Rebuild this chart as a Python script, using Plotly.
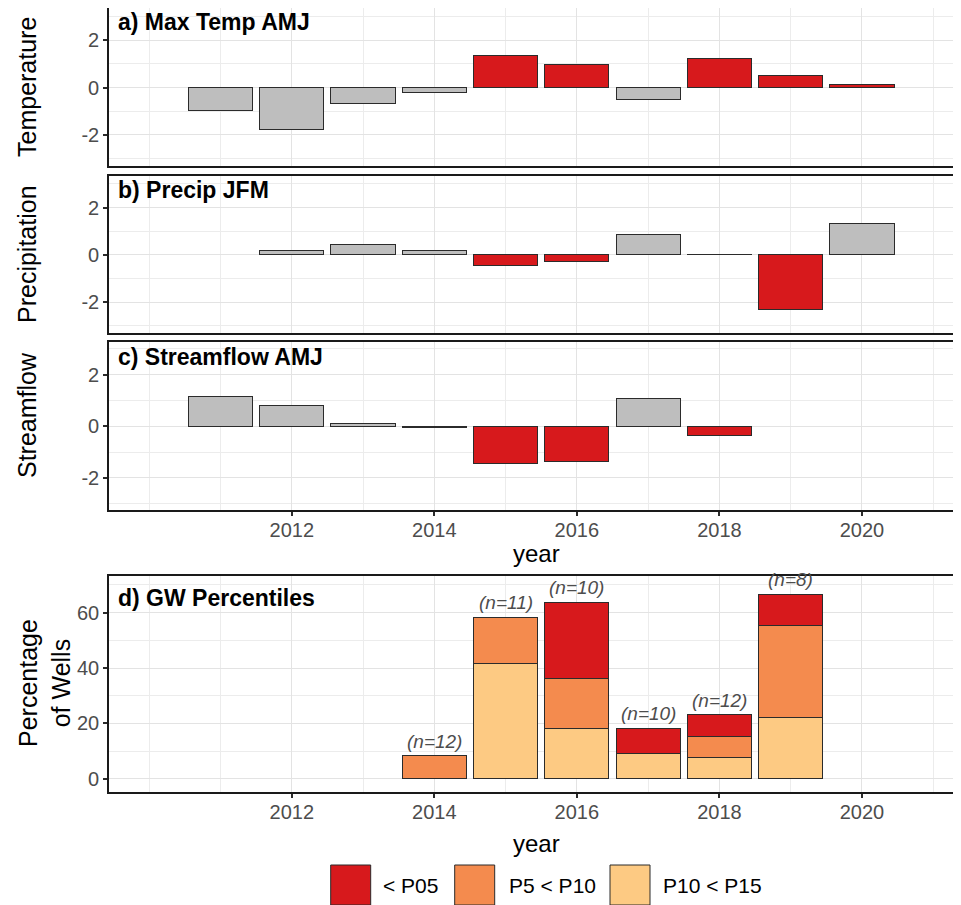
import plotly.graph_objects as go

# ---------------- data ----------------
years_a = [2011, 2012, 2013, 2014, 2015, 2016, 2017, 2018, 2019, 2020]
temp_amj = [-0.96, -1.76, -0.66, -0.2, 1.35, 0.97, -0.49, 1.22, 0.52, 0.12]

years_b = [2012, 2013, 2014, 2015, 2016, 2017, 2018, 2019, 2020]
precip_jfm = [0.17, 0.44, 0.21, -0.45, -0.28, 0.87, 0.03, -2.3, 1.31]

years_c = [2011, 2012, 2013, 2014, 2015, 2016, 2017, 2018]
stream_amj = [1.14, 0.81, 0.1, -0.03, -1.43, -1.38, 1.09, -0.34]

years_d = [2014, 2015, 2016, 2017, 2018, 2019]
p10_p15 = [None, 41.7, 18.2, 9.1, 7.7, 22.2]
p5_p10 = [8.3, 16.6, 18.2, None, 7.7, 33.3]
lt_p05 = [None, None, 27.3, 9.1, 7.7, 11.1]
n_wells = [12, 11, 10, 10, 12, 8]

x_ticks = [2012, 2014, 2016, 2018, 2020]
legend_labels = ["< P05", "P5 < P10", "P10 < P15"]

# ---------------- style ----------------
OFF = 8  # page body margin
W, H = 961 - OFF, 905 - OFF
RED = "#d7191c"
ORANGE = "#f48b4e"
LIGHT = "#fdca83"
GREY = "#bebebe"
EDGE = "#2b2b2b"
FONT = "Liberation Sans, Arial, sans-serif"
TICKC = "#4d4d4d"


def px_x(x):
    return (x - OFF) / W


def px_y(y):
    return 1 - (y - OFF) / H


panels = {  # (top px, bottom px) in reference coordinates
    1: (8.3, 165.7),
    2: (175.7, 333.3),
    3: (341.7, 510.0),
    4: (575.7, 791.7),
}
XL = 109.3

fig = go.Figure()

red_or_grey = lambda cond: [RED if c else GREY for c in cond]

fig.add_trace(go.Bar(x=years_a, y=temp_amj, width=0.9,
                     marker=dict(color=red_or_grey([v > 0 for v in temp_amj]),
                                 line=dict(color=EDGE, width=1)),
                     xaxis="x", yaxis="y", showlegend=False))
fig.add_trace(go.Bar(x=years_b, y=precip_jfm, width=0.9,
                     marker=dict(color=red_or_grey([v < 0 for v in precip_jfm]),
                                 line=dict(color=EDGE, width=1)),
                     xaxis="x2", yaxis="y2", showlegend=False))
fig.add_trace(go.Bar(x=years_c, y=stream_amj, width=0.9,
                     marker=dict(color=red_or_grey([v < -0.1 for v in stream_amj]),
                                 line=dict(color=EDGE, width=1)),
                     xaxis="x3", yaxis="y3", showlegend=False))

for vals, col, name in [(p10_p15, LIGHT, legend_labels[2]),
                        (p5_p10, ORANGE, legend_labels[1]),
                        (lt_p05, RED, legend_labels[0])]:
    fig.add_trace(go.Bar(x=years_d, y=vals, width=0.9, name=name,
                         marker=dict(color=col, line=dict(color=EDGE, width=1)),
                         xaxis="x4", yaxis="y4", showlegend=False))

# n labels
totals = [sum(v for v in (a, b, c) if v is not None) for a, b, c in zip(p10_p15, p5_p10, lt_p05)]
for yr, tot, n in zip(years_d, totals, n_wells):
    fig.add_annotation(x=yr, y=tot, xref="x4", yref="y4", text=f"<i>(n={n})</i>",
                       showarrow=False, yanchor="bottom", yshift=2,
                       font=dict(family=FONT, size=19, color=TICKC))

xrange = [2009.44, 2021.39]
yranges = {1: [-3.3, 3.35], 2: [-3.31, 3.35], 3: [-3.25, 3.28], 4: [-4.6, 73.3]}

layout = dict(width=W, height=H, margin=dict(l=0, r=0, t=0, b=0, autoexpand=False),
              paper_bgcolor="white", plot_bgcolor="white",
              barmode="stack", showlegend=False, font=dict(family=FONT))

for i in range(1, 5):
    top, bot = panels[i]
    sx = "" if i == 1 else str(i)
    show_lab = i >= 3
    layout[f"xaxis{sx}"] = dict(
        domain=[px_x(XL), 1.0], range=xrange, anchor=f"y{sx}", automargin=False,
        tickvals=x_ticks, showticklabels=show_lab,
        ticks="outside" if show_lab else "", ticklen=4, tickwidth=1.5, tickcolor=EDGE,
        ticklabelstandoff=-3,
        tickfont=dict(family=FONT, size=20, color=TICKC),
        showgrid=True, gridcolor="#e3e3e3", gridwidth=1.4,
        minor=dict(tick0=2010, dtick=1, showgrid=True, gridcolor="#ececec", gridwidth=1, ticks=""),
        showline=True, linecolor="#1a1a1a", linewidth=2.2, mirror=True, zeroline=False,
    )
    if i == 4:
        ytv, ydt = [0, 20, 40, 60], 10
        ytt = ["0", "20", "40", "60"]
    else:
        ytv, ydt = [-2, 0, 2], 1
        ytt = ["-2", "0", "2"]
    layout[f"yaxis{sx}"] = dict(
        domain=[px_y(bot), px_y(top)], range=yranges[i], anchor=f"x{sx}", automargin=False,
        tickvals=ytv, ticktext=ytt, ticks="outside", ticklen=4, tickwidth=1.5, tickcolor=EDGE,
        tickfont=dict(family=FONT, size=20, color=TICKC),
        showgrid=True, gridcolor="#e3e3e3", gridwidth=1.4,
        minor=dict(tick0=0, dtick=ydt, showgrid=True, gridcolor="#ececec", gridwidth=1, ticks=""),
        showline=True, linecolor="#1a1a1a", linewidth=2.2, mirror=False, zeroline=False,
    )

fig.update_layout(**layout)

# panel titles
titles = ["a) Max Temp AMJ", "b) Precip JFM", "c) Streamflow AMJ", "d) GW Percentiles"]
title_y = [22, 190, 357, 598]
for t, yy in zip(titles, title_y):
    fig.add_annotation(x=px_x(116), y=px_y(yy), xref="paper", yref="paper", text=f"<b>{t}</b>",
                       showarrow=False, xanchor="left", yanchor="middle",
                       font=dict(family=FONT, size=23, color="black"))

# y-axis titles
ytitles = [("Temperature", 27, 87), ("Precipitation", 27, 254), ("Streamflow", 27, 415),
           ("Percentage<br>of Wells", 44, 683)]
for t, xx, yy in ytitles:
    fig.add_annotation(x=px_x(xx), y=px_y(yy), xref="paper", yref="paper", text=t,
                       showarrow=False, textangle=-90, xanchor="center", yanchor="middle",
                       font=dict(family=FONT, size=25, color="black"))

# x-axis titles
for yy in [553, 843]:
    fig.add_annotation(x=px_x(536), y=px_y(yy), xref="paper", yref="paper", text="year",
                       showarrow=False, xanchor="center", yanchor="middle",
                       font=dict(family=FONT, size=24, color="black"))

# manual legend
leg_items = [(RED, legend_labels[0], 330.7, 381),
             (ORANGE, legend_labels[1], 454.7, 507),
             (LIGHT, legend_labels[2], 610, 661)]
for col, lab, kx, tx in leg_items:
    fig.add_shape(type="rect", xref="paper", yref="paper",
                  x0=px_x(kx), x1=px_x(kx + 40), y0=px_y(905), y1=px_y(865),
                  fillcolor=col, line=dict(color=EDGE, width=1))
    fig.add_annotation(x=px_x(tx), y=px_y(885), xref="paper", yref="paper", text=lab,
                       showarrow=False, xanchor="left", yanchor="middle",
                       font=dict(family=FONT, size=21, color="black"))

fig.write_html("out.html")
